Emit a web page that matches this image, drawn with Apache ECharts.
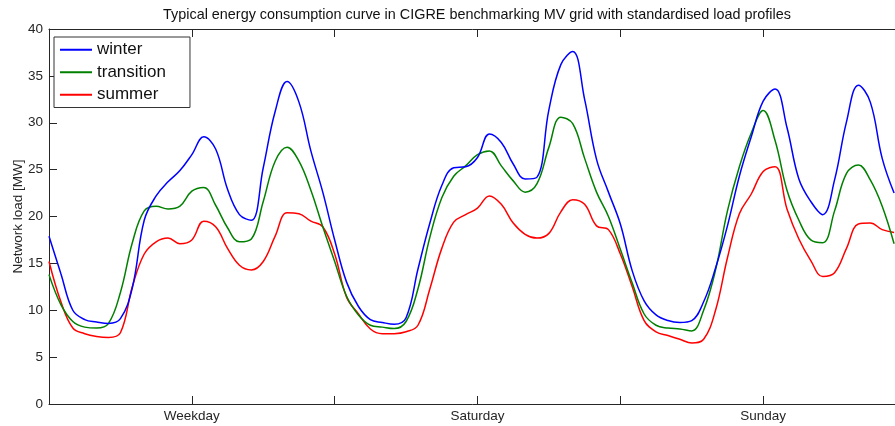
<!DOCTYPE html>
<html>
<head>
<meta charset="utf-8">
<script src="https://cdn.jsdelivr.net/npm/echarts@6/dist/echarts.min.js"></script>
<style>
html,body{margin:0;padding:0;background:#fff;}
#chart{width:895px;height:426px;}
</style>
</head>
<body>
<div id="chart"></div>
<script>
// Hours since start of the weekday profile (0..71)
const hours = [];
for (let h = 0; h <= 71; h++) hours.push(h);

const dayLabels = ['Weekday', 'Saturday', 'Sunday'];
const yTicks = [0, 5, 10, 15, 20, 25, 30, 35, 40];

const winter = [
  17.9, 13.9, 10.0, 9.0, 8.75, 8.6, 9.1, 12.4, 19.6, 22.2, 23.7, 24.9,
  26.6, 28.5, 27.2, 22.9, 20.2, 19.6, 25.2, 31.2, 34.4, 32.2, 27.0, 22.6,
  17.5, 13.0, 10.4, 9.0, 8.7, 8.5, 9.2, 14.4, 19.3, 23.3, 25.2, 25.3,
  26.3, 28.8, 27.9, 25.6, 24.0, 24.2, 31.4, 36.2, 37.6, 32.5, 26.1, 22.6,
  19.2, 14.2, 11.0, 9.5, 8.9, 8.7, 8.9, 10.9, 14.5, 19.0, 24.3, 28.5,
  32.3, 33.6, 29.5, 24.0, 21.6, 20.2, 23.9, 30.1, 34.0, 32.2, 26.2, 22.5
];
const transition = [
  13.8, 10.6, 8.8, 8.2, 8.1, 8.6, 11.9, 17.2, 20.6, 21.1, 20.8, 21.1,
  22.7, 23.1, 21.2, 18.8, 17.3, 17.6, 21.6, 25.9, 27.4, 25.9, 22.8, 18.9,
  15.2, 11.5, 9.5, 8.4, 8.2, 8.05, 8.8, 12.3, 17.8, 22.0, 24.3, 25.4,
  26.6, 27.0, 25.4, 23.8, 22.6, 23.5, 27.4, 30.6, 29.9, 26.2, 22.6, 20.0,
  16.5, 12.9, 9.6, 8.4, 8.1, 8.0, 7.8, 10.0, 14.3, 20.6, 25.3, 28.9,
  31.3, 28.1, 22.8, 19.6, 17.5, 17.2, 20.6, 24.6, 25.5, 23.9, 21.1, 17.1
];
const summer = [
  15.2, 10.9, 8.1, 7.5, 7.2, 7.1, 7.6, 12.5, 16.0, 17.3, 17.7, 17.1,
  17.5, 19.5, 18.9, 16.6, 14.8, 14.3, 15.2, 17.9, 20.4, 20.3, 19.5, 18.9,
  16.0, 11.4, 9.6, 8.0, 7.5, 7.5, 7.7, 8.4, 12.3, 16.6, 19.4, 20.2,
  20.9, 22.2, 21.3, 19.3, 18.1, 17.7, 18.2, 20.5, 21.8, 21.3, 19.0, 18.6,
  16.0, 12.5, 8.9, 7.7, 7.3, 6.9, 6.5, 6.9, 10.0, 15.6, 20.3, 22.4,
  24.8, 25.3, 20.8, 17.6, 15.3, 13.6, 14.0, 16.6, 19.2, 19.3, 18.6, 18.3
];

const seriesNames = ['winter', 'transition', 'summer'];
const seriesColors = ['#0000ff', '#008000', '#ff0000'];
const seriesValues = [winter, transition, summer];

const textColor = '#262626';
const font = 'Liberation Sans, Arial, Helvetica, sans-serif';

const chart = echarts.init(document.getElementById('chart'), null, {renderer: 'canvas'});

function dayLabel(v) {
  const i = Math.round((v - 12) / 24);
  if (v % 24 === 12 && i >= 0 && i < dayLabels.length) return dayLabels[i];
  return '';
}

const option = {
  animation: false,
  backgroundColor: '#fff',
  title: {
    text: 'Typical energy consumption curve in CIGRE benchmarking MV grid with standardised load profiles',
    left: 477,
    top: 8,
    padding: 0,
    textAlign: 'center',
    textStyle: {fontFamily: font, fontSize: 14.4, fontWeight: 'normal', color: '#111'}
  },
  legend: {
    orient: 'vertical',
    left: 54,
    top: 37,
    padding: [4, 24, 4, 6],
    itemGap: 5,
    itemWidth: 32,
    itemHeight: 2,
    icon: 'rect',
    backgroundColor: '#fff',
    borderColor: '#333',
    borderWidth: 1,
    borderRadius: 0,
    data: seriesNames,
    textStyle: {fontFamily: font, fontSize: 17, color: '#111', lineHeight: 17.5}
  },
  grid: {left: 49, top: 29, right: -11, bottom: 22, containLabel: false, outerBoundsMode: 'none'},
  xAxis: [{
    type: 'value',
    min: 0, max: 72, interval: 12,
    axisLine: {show: true, lineStyle: {color: textColor, width: 1}},
    axisTick: {show: true, inside: true, length: 8, lineStyle: {color: textColor}},
    axisLabel: {formatter: dayLabel, fontFamily: font, fontSize: 13.5, color: textColor, margin: 5},
    splitLine: {show: false}
  }, {
    type: 'value',
    position: 'top',
    min: 0, max: 72, interval: 12,
    axisLine: {show: true, lineStyle: {color: textColor, width: 1}},
    axisTick: {show: true, inside: true, length: 8, lineStyle: {color: textColor}},
    axisLabel: {show: false},
    splitLine: {show: false}
  }],
  yAxis: {
    type: 'value',
    min: yTicks[0], max: yTicks[yTicks.length - 1], interval: 5,
    name: 'Network load [MW]',
    nameLocation: 'middle',
    nameGap: 24,
    nameMoveOverlap: false,
    nameTextStyle: {fontFamily: font, fontSize: 13.5, color: textColor},
    axisLine: {show: true, lineStyle: {color: textColor, width: 1}},
    axisTick: {show: true, inside: true, length: 8, lineStyle: {color: textColor}},
    axisLabel: {fontFamily: font, fontSize: 13.5, color: textColor, margin: 6},
    splitLine: {show: false}
  },
  series: seriesNames.map((n, i) => ({
    name: n,
    type: 'line',
    xAxisIndex: 0,
    data: hours.map((h, k) => [h, seriesValues[i][k]]),
    showSymbol: false,
    smooth: 0.4,
    lineStyle: {color: seriesColors[i], width: 1.5},
    itemStyle: {color: seriesColors[i]},
    z: 3 - i
  }))
};
chart.setOption(option);
</script>
</body>
</html>
